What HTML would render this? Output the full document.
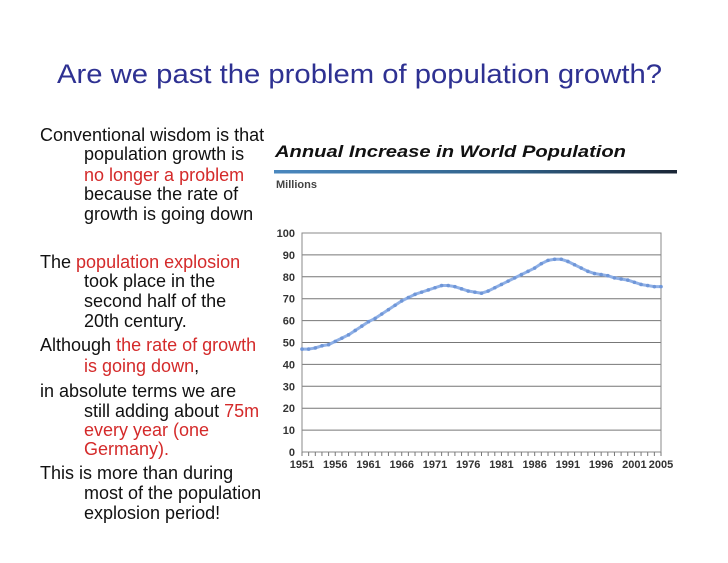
<!DOCTYPE html>
<html><head><meta charset="utf-8"><style>
html,body{margin:0;padding:0;background:#fff;}
svg{display:block;font-family:"Liberation Sans",Arial,sans-serif;}
</style></head><body>
<svg width="728" height="563" viewBox="0 0 728 563">
<text x="57" y="83" font-size="27" fill="#2e3192" textLength="605" lengthAdjust="spacingAndGlyphs">Are we past the problem of population growth?</text>
<g font-size="18" fill="#111">
<text x="40" y="141">Conventional wisdom is that</text>
<text x="84" y="160">population growth is</text>
<text x="84" y="181" fill="#d42a2a">no longer a problem</text>
<text x="84" y="200">because the rate of</text>
<text x="84" y="220">growth is going down</text>
<text x="40" y="268">The <tspan fill="#d42a2a">population explosion</tspan></text>
<text x="84" y="287">took place in the</text>
<text x="84" y="307">second half of the</text>
<text x="84" y="327">20th century.</text>
<text x="40" y="351">Although <tspan fill="#d42a2a">the rate of growth</tspan></text>
<text x="84" y="372"><tspan fill="#d42a2a">is going down</tspan>,</text>
<text x="40" y="397">in absolute terms we are</text>
<text x="84" y="417">still adding about <tspan fill="#d42a2a">75m</tspan></text>
<text x="84" y="436" fill="#d42a2a">every year (one</text>
<text x="84" y="455" fill="#d42a2a">Germany).</text>
<text x="40" y="479">This is more than during</text>
<text x="84" y="499">most of the population</text>
<text x="84" y="519">explosion period!</text>
</g>
<text x="275" y="157" font-size="17" font-weight="bold" font-style="italic" fill="#111" textLength="351" lengthAdjust="spacingAndGlyphs">Annual Increase in World Population</text>
<defs><linearGradient id="bar" x1="0" x2="1"><stop offset="0" stop-color="#4a88bf"/><stop offset="0.6" stop-color="#2f5f86"/><stop offset="1" stop-color="#1a2535"/></linearGradient></defs>
<rect x="274" y="170" width="403" height="3.5" fill="url(#bar)"/>
<text x="276" y="188" font-size="11" font-weight="bold" fill="#444">Millions</text>
<g id="chart"></g>
</svg>
<script>
const years = [];
for (let y = 1951; y <= 2005; y++) years.push(y);
const values = [47,47,47.5,48.5,49,50.5,52,53.5,55.5,57.5,59.5,61,63,65,67,69,70.5,72,73,74,75,76,76,75.5,74.5,73.5,73,72.5,73.5,75,76.5,78,79.5,81,82.5,84,86,87.5,88,88,87,85.5,84,82.5,81.5,81,80.5,79.5,79,78.5,77.5,76.5,76,75.5,75.5];
const yTicks = [0,10,20,30,40,50,60,70,80,90,100];
const xTickLabels = [1951,1956,1961,1966,1971,1976,1981,1986,1991,1996,2001,2005];
const NS = "http://www.w3.org/2000/svg";
const g = document.getElementById('chart');
const L = 302, R = 661, T = 233, B = 452;
const xs = v => L + (v - 1951) / (2005 - 1951) * (R - L);
const ys = v => B - v / 100 * (B - T);
function mk(tag, attrs) { const e = document.createElementNS(NS, tag); for (const k in attrs) e.setAttribute(k, attrs[k]); g.appendChild(e); return e; }
yTicks.forEach(t => {
  const ln = mk('line', {x1: L, x2: R, y1: ys(t), y2: ys(t), stroke: '#777', 'stroke-width': 1});
  
  
  const tx = mk('text', {x: 295, y: ys(t) + 4, 'font-size': 11, 'font-weight': 'bold', 'text-anchor': 'end', fill: '#333'});
  tx.textContent = t;
  
  
});
const fr = mk('rect', {x: L, y: T, width: R - L, height: B - T, fill: 'none', stroke: '#888', 'stroke-width': 1});


years.forEach(y => {
  const tk = mk('line', {x1: xs(y), x2: xs(y), y1: B, y2: B + 4, stroke: '#777', 'stroke-width': 1});
  
  
});
xTickLabels.forEach(y => {
  const tx = mk('text', {x: xs(y), y: 468, 'font-size': 11, 'font-weight': 'bold', 'text-anchor': 'middle', fill: '#333'});
  tx.textContent = y;
  
  
});
const pts = years.map((y, i) => xs(y) + ',' + ys(values[i])).join(' ');
const pl = mk('polyline', {points: pts, fill: 'none', stroke: '#8fb0e6', 'stroke-width': 3, 'stroke-linejoin': 'round'});


years.forEach((y, i) => {
  const c = mk('circle', {cx: xs(y), cy: ys(values[i]), r: 1.8, fill: '#6f96d8'});
  
  
});
</script>
</body></html>
